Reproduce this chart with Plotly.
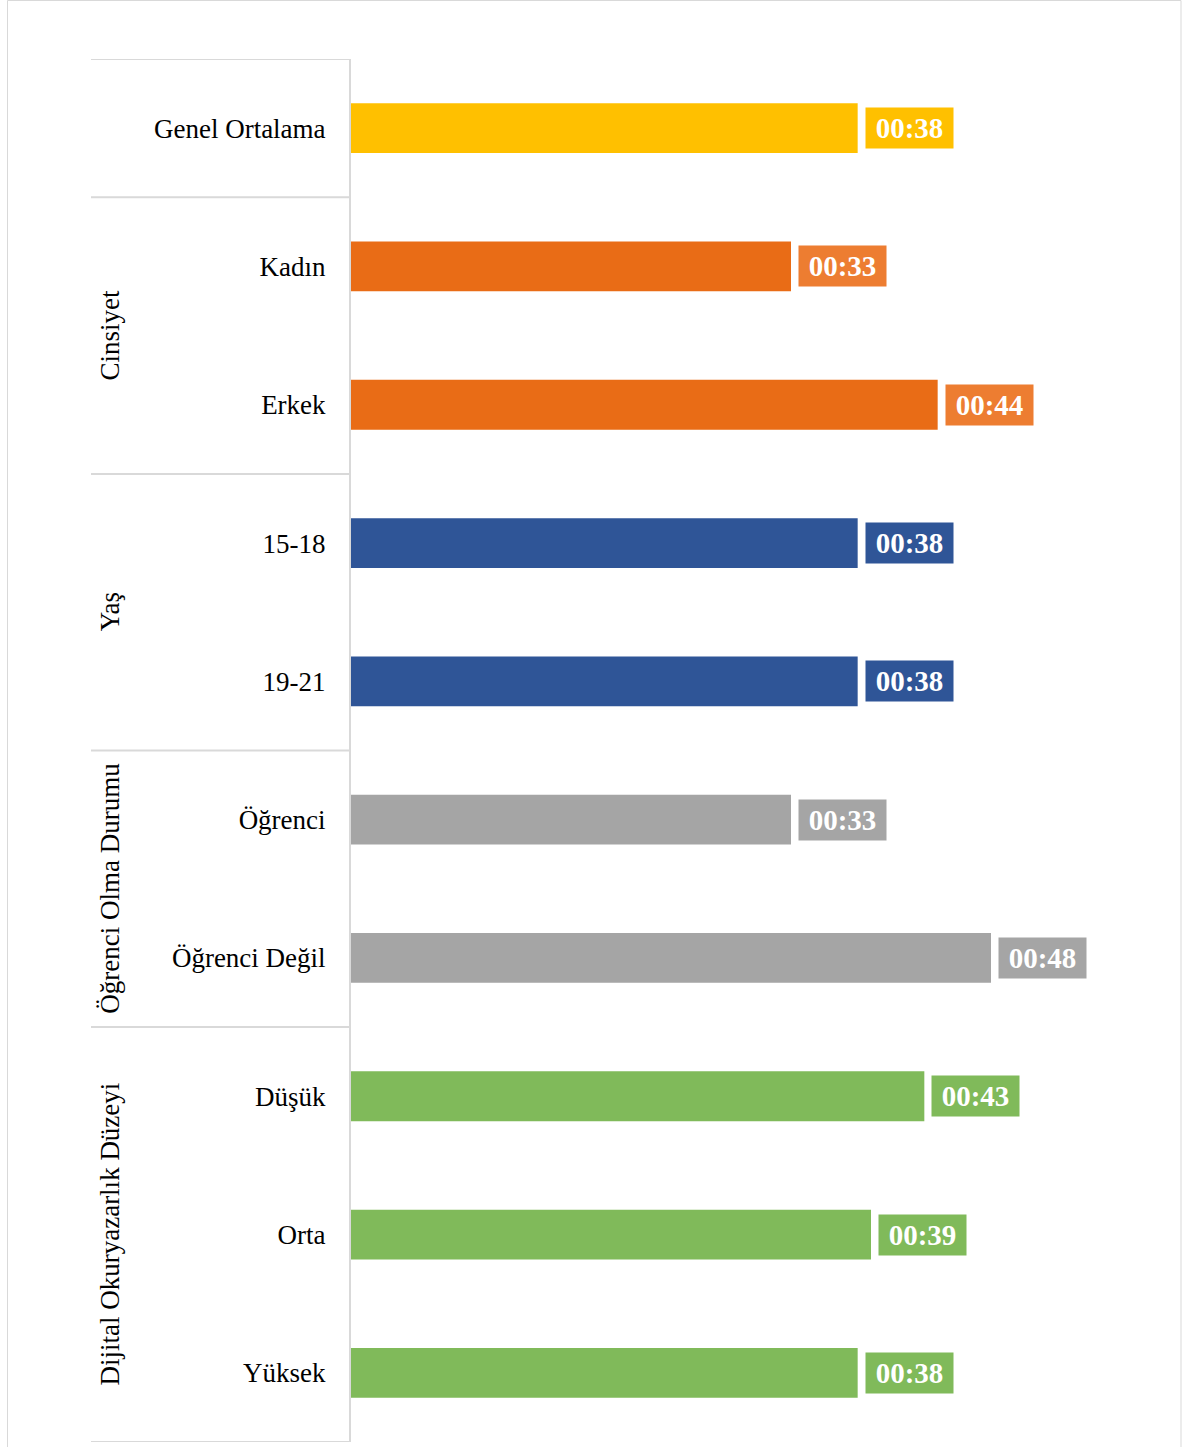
import plotly.graph_objects as go

categories = ["Genel Ortalama", "Kadın", "Erkek", "15-18", "19-21",
              "Öğrenci", "Öğrenci Değil", "Düşük", "Orta", "Yüksek"]
minutes = [38, 33, 44, 38, 38, 33, 48, 43, 39, 38]
bar_colors = ["#FFC000", "#E96C16", "#E96C16", "#2F5597", "#2F5597",
              "#A5A5A5", "#A5A5A5", "#80BA5A", "#80BA5A", "#80BA5A"]
label_colors = ["#FFC000", "#ED7D31", "#ED7D31", "#2F5597", "#2F5597",
                "#A5A5A5", "#A5A5A5", "#80BA5A", "#80BA5A", "#80BA5A"]
groups = ["Cinsiyet", "Yaş", "Öğrenci Olma Durumu", "Dijital Okuryazarlık Düzeyi"]
group_centers = [1.5, 3.5, 5.5, 8.0]
group_bounds = [-0.5, 0.5, 2.5, 4.5, 6.5, 9.5]

FONT = "Liberation Serif"
W, H = 1183, 1447
L, R, T, B = 351, 32, 59, 5
pw = W - L - R
ph = H - T - B

fig = go.Figure()
fig.add_trace(go.Bar(
    y=categories, x=minutes, orientation="h",
    marker=dict(color=bar_colors, line=dict(width=0)),
    hoverinfo="skip",
))

annotations = []
for c, v, col in zip(categories, minutes, label_colors):
    annotations.append(dict(
        x=v, y=c, xref="x", yref="y", text=f"<b>00:{v:02d}</b>",
        showarrow=False, xanchor="left", yanchor="middle", xshift=7,
        bgcolor=col, borderpad=0, width=87, height=40, align="center", valign="middle",
        font=dict(family=FONT, size=29, color="white"),
    ))
for g, yc in zip(groups, group_centers):
    annotations.append(dict(
        x=(110 - L) / pw, y=yc, xref="paper", yref="y", text=g,
        showarrow=False, textangle=-90, xanchor="center", yanchor="middle",
        font=dict(family=FONT, size=27, color="#000000"),
    ))

shapes = []
for yb in group_bounds:
    shapes.append(dict(type="line", xref="paper", yref="y",
                       x0=(91 - L) / pw, x1=0, y0=yb, y1=yb,
                       line=dict(color="#D9D9D9", width=2)))
shapes.append(dict(type="rect", xref="paper", yref="paper",
                   x0=(7.5 - L) / pw, x1=(1181 - L) / pw,
                   y0=-(20) / ph, y1=1 + (T - 0.5) / ph,
                   line=dict(color="#D9D9D9", width=1)))

fig.update_layout(
    width=W, height=H,
    margin=dict(l=L, r=R, t=T, b=B),
    paper_bgcolor="white", plot_bgcolor="white",
    showlegend=False, bargap=0.64,
    annotations=annotations, shapes=shapes,
    xaxis=dict(range=[0, 60], visible=False, fixedrange=True),
    yaxis=dict(type="category", range=[9.5, -0.5], showgrid=False,
               showline=True, linecolor="#D9D9D9", linewidth=2,
               ticks="", ticklabelstandoff=18,
               tickfont=dict(family=FONT, size=27, color="#000000"),
               fixedrange=True),
)

fig.write_html("out.html", config={"displayModeBar": False},
               post_script="document.body.style.margin='0';")
